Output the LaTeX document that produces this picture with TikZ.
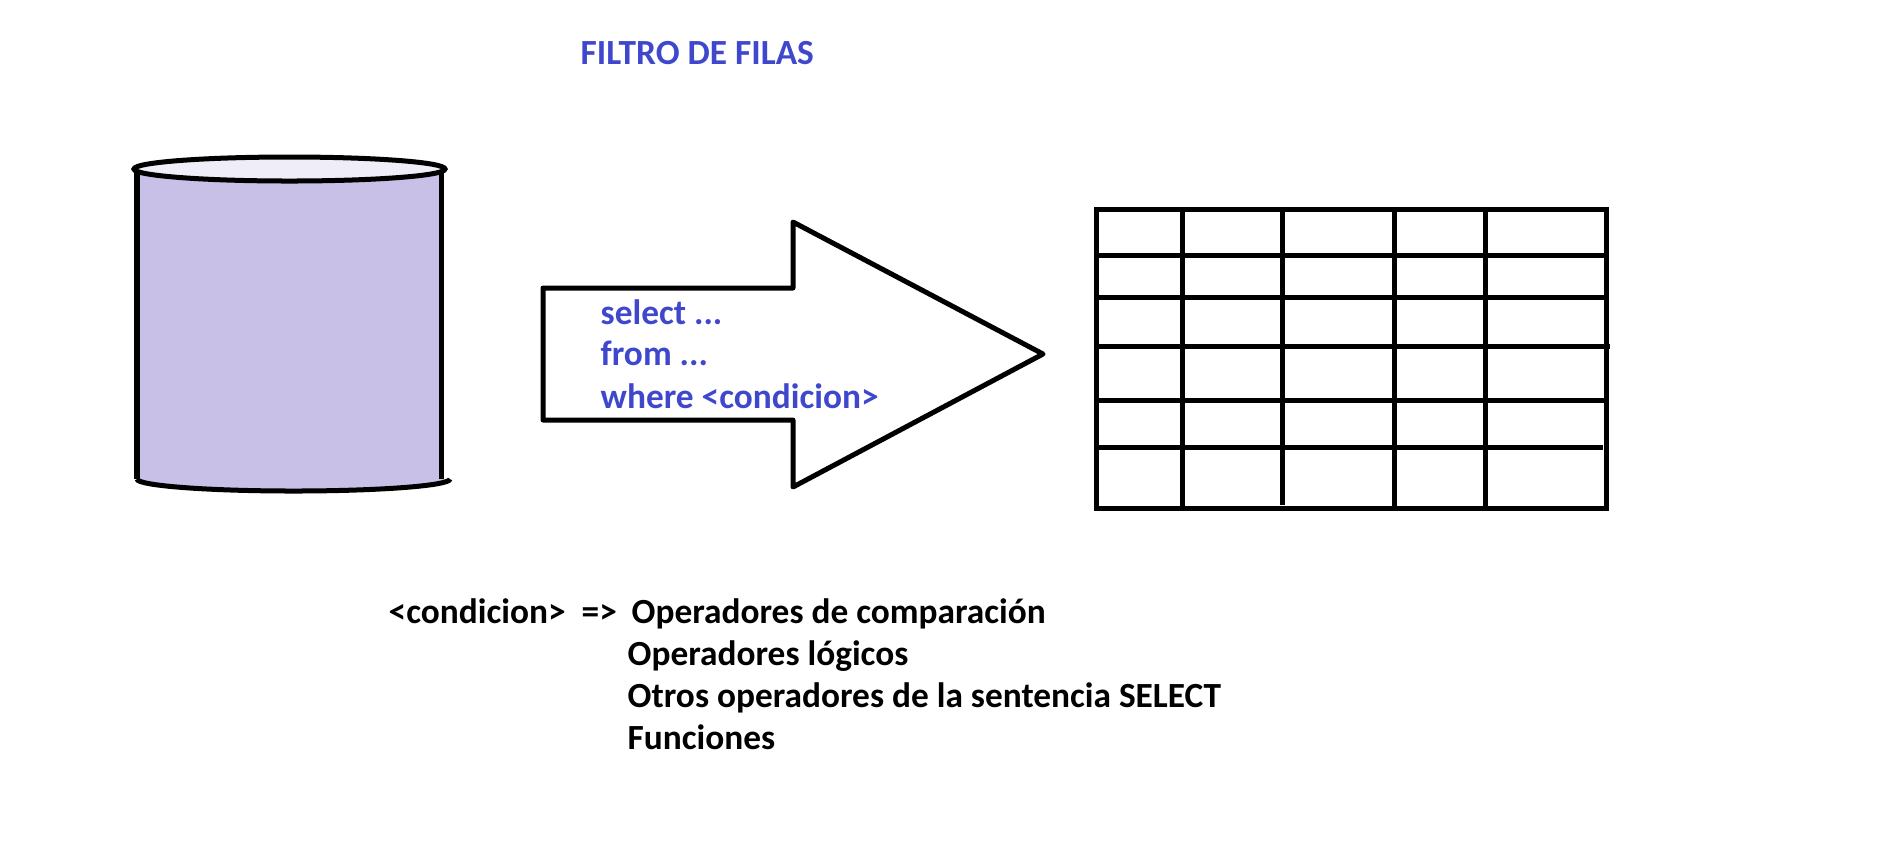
\documentclass[tikz,border=0pt]{standalone}
\usepackage{fontspec}
\setmainfont{Carlito}
\definecolor{azul}{HTML}{3F48CC}
\definecolor{lila}{HTML}{C8C0E7}
\definecolor{lilaclaro}{HTML}{EFEDF8}
\tikzset{
    linea/.style={line width=0.05cm,black},
    texto/.style={anchor=base west,inner sep=0,font=\fontsize{10.05}{12}\selectfont\bfseries},
    textoazul/.style={texto,text=azul}
}

\begin{document}
\begin{tikzpicture}[x=0.01cm,y=-0.01cm]
    \useasboundingbox (0,0) rectangle (1899,841);

    \node[textoazul] (titulo) at (580,64) {FILTRO DE FILAS};

    % cilindro
    \fill[lila] (137,169) rectangle (441,479);
    \draw[linea,fill=lila] (137,479) arc (180:0:156.5 and 12);
    \draw[linea] (137,169) -- (137,479);
    \draw[linea] (441,169) -- (441,479);
    \draw[linea,fill=lilaclaro] (289.5,169) ellipse (155.5 and 12);

    % flecha
    \draw[linea,line join=round] (543,288) -- (793,288) -- (793,222) -- (1043,354) -- (793,487) -- (793,420) -- (543,420) -- cycle;
    \node[textoazul] (select) at (600,324) {select ...};
    \node[textoazul] (from) at (600,365) {from ...};
    \node[textoazul] (where) at (600,408) {where <condicion>};

    % tabla
    \draw[linea] (1096,209) rectangle (1606,508);
    \foreach \y/\e in {255/1606,297/1606,346/1610,400/1606,447/1603}
        \draw[linea] (1096,\y) -- (\e,\y);
    \foreach \x/\e in {1182/508,1282/505,1394/508,1485/508}
        \draw[linea] (\x,209) -- (\x,\e);

    % condicion
    \node[texto] (condicion) at (388,623) {<condicion>};
    \node[texto] (flechita) at (581,623) {=>};
    \node[texto] (comparacion) at (631,623) {Operadores de comparación};
    \node[texto] (logicos) at (627,665) {Operadores lógicos};
    \node[texto] (otros) at (627,707) {Otros operadores de la sentencia SELECT};
    \node[texto] (funciones) at (627,749) {Funciones};
\end{tikzpicture}
\end{document}
